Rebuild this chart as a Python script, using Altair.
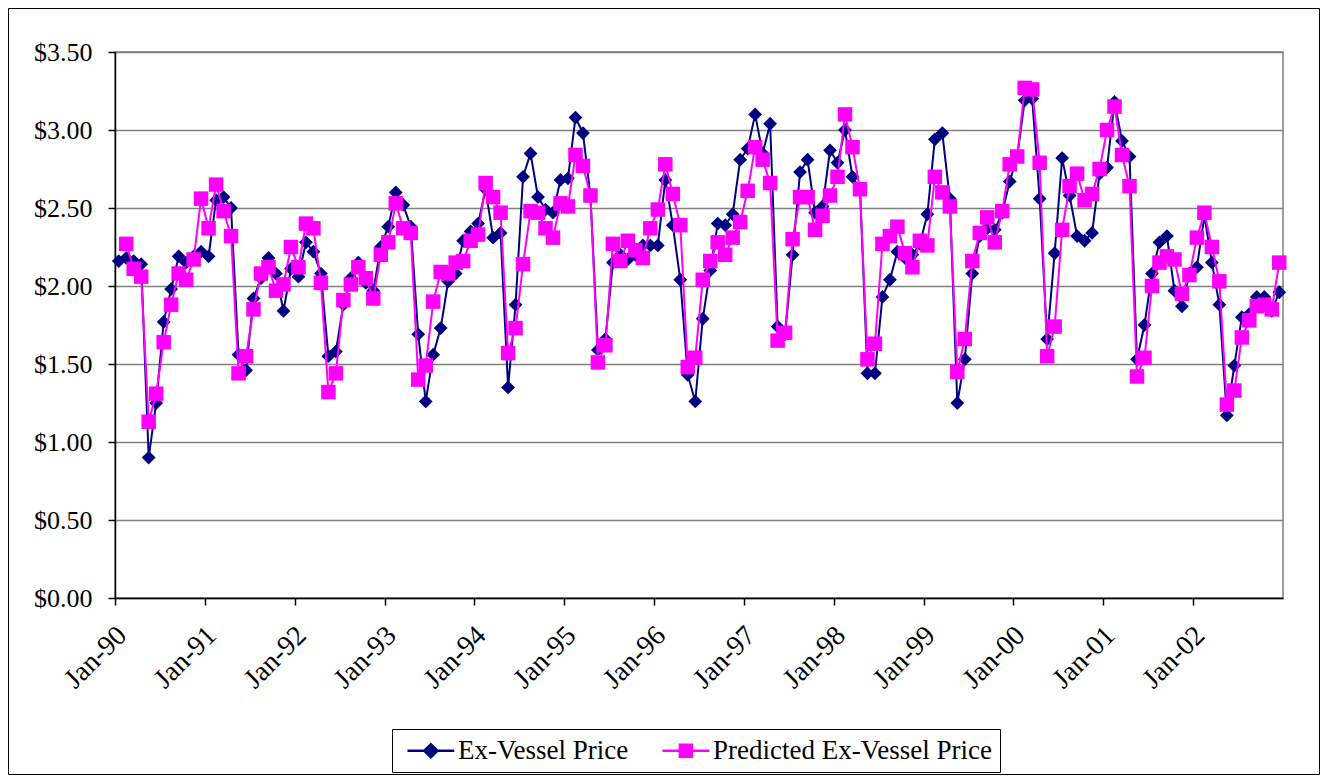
import altair as alt
import pandas as pd

tick_labels = ["Jan-90", "Jan-91", "Jan-92", "Jan-93", "Jan-94", "Jan-95", "Jan-96",
               "Jan-97", "Jan-98", "Jan-99", "Jan-00", "Jan-01", "Jan-02"]

series_names = ["Ex-Vessel Price", "Predicted Ex-Vessel Price"]

# monthly values, Jan-90 .. Dec-02
actual_price = [
    2.16, 2.18, 2.16, 2.14, 0.90, 1.25, 1.77, 1.98, 2.19, 2.15, 2.19, 2.22,
    2.19, 2.55, 2.57, 2.50, 1.56, 1.46, 1.92, 2.05, 2.18, 2.08, 1.84, 2.11,
    2.06, 2.28, 2.22, 2.08, 1.55, 1.58, 1.88, 2.05, 2.15, 2.02, 1.97, 2.25,
    2.38, 2.60, 2.52, 2.38, 1.69, 1.26, 1.56, 1.73, 2.03, 2.08, 2.29, 2.35,
    2.40, 2.62, 2.31, 2.34, 1.35, 1.88, 2.70, 2.85, 2.57, 2.49, 2.47, 2.68,
    2.69, 3.08, 2.98, 2.58, 1.59, 1.66, 2.15, 2.20, 2.17, 2.20, 2.26, 2.26,
    2.26, 2.68, 2.39, 2.04, 1.43, 1.26, 1.79, 2.10, 2.40, 2.39, 2.46, 2.81,
    2.88, 3.10, 2.85, 3.04, 1.74, 1.69, 2.20, 2.73, 2.81, 2.47, 2.51, 2.87,
    2.79, 3.00, 2.70, 2.62, 1.44, 1.44, 1.93, 2.04, 2.22, 2.18, 2.20, 2.27,
    2.46, 2.94, 2.98, 2.56, 1.25, 1.53, 2.08, 2.32, 2.37, 2.36, 2.47, 2.67,
    2.83, 3.19, 3.20, 2.56, 1.66, 2.21, 2.82, 2.58, 2.32, 2.29, 2.34, 2.72,
    2.76, 3.18, 2.93, 2.83, 1.53, 1.75, 2.08, 2.28, 2.32, 1.97, 1.87, 2.08,
    2.12, 2.45, 2.15, 1.88, 1.17, 1.49, 1.80, 1.82, 1.93, 1.93, 1.84, 1.96,
]

predicted_price = [
    None, 2.27, 2.11, 2.06, 1.13, 1.31, 1.64, 1.88, 2.08, 2.04, 2.17, 2.56,
    2.37, 2.65, 2.48, 2.32, 1.44, 1.55, 1.85, 2.08, 2.12, 1.97, 2.01, 2.25,
    2.12, 2.40, 2.37, 2.02, 1.32, 1.44, 1.91, 2.01, 2.12, 2.05, 1.92, 2.20,
    2.28, 2.53, 2.37, 2.34, 1.40, 1.49, 1.90, 2.09, 2.08, 2.15, 2.16, 2.29,
    2.33, 2.66, 2.57, 2.47, 1.57, 1.73, 2.14, 2.48, 2.47, 2.37, 2.31, 2.53,
    2.51, 2.84, 2.77, 2.58, 1.51, 1.62, 2.27, 2.16, 2.29, 2.23, 2.18, 2.37,
    2.49, 2.78, 2.59, 2.39, 1.48, 1.54, 2.04, 2.16, 2.28, 2.20, 2.31, 2.41,
    2.61, 2.89, 2.81, 2.66, 1.65, 1.70, 2.30, 2.57, 2.57, 2.36, 2.45, 2.58,
    2.70, 3.10, 2.89, 2.62, 1.53, 1.63, 2.27, 2.32, 2.38, 2.21, 2.12, 2.29,
    2.26, 2.70, 2.60, 2.51, 1.45, 1.66, 2.16, 2.34, 2.44, 2.28, 2.48, 2.78,
    2.83, 3.27, 3.26, 2.79, 1.55, 1.74, 2.36, 2.64, 2.72, 2.55, 2.59, 2.75,
    3.00, 3.15, 2.84, 2.64, 1.42, 1.54, 2.00, 2.15, 2.19, 2.17, 1.95, 2.07,
    2.31, 2.47, 2.25, 2.03, 1.24, 1.33, 1.67, 1.78, 1.87, 1.88, 1.85, 2.15,
]

NAVY = "#000080"
MAGENTA = "#FF00FF"
FONT = "Liberation Serif"

rows = []
for i, v in enumerate(actual_price):
    rows.append({"month": i + 0.5, "price": v, "series": series_names[0]})
for i, v in enumerate(predicted_price):
    if v is not None:
        rows.append({"month": i + 0.5, "price": v, "series": series_names[1]})
df = pd.DataFrame(rows)

label_expr = "[" + ",".join("'" + s + "'" for s in tick_labels) + "][round(datum.value / 12)]"

x_enc = alt.X(
    "month:Q",
    scale=alt.Scale(domain=[0, 156], nice=False, zero=False),
    axis=alt.Axis(
        values=[12 * k for k in range(len(tick_labels))],
        labelExpr=label_expr,
        labelAngle=-45,
        labelAlign="right",
        labelBaseline="top",
        labelFont=FONT,
        labelFontSize=28,
        labelColor="black",
        labelPadding=16,
        labelOffset=-3,
        tickSize=7,
        tickColor="black",
        tickWidth=1.5,
        domainColor="black",
        domainWidth=1.5,
        grid=False,
        labelOverlap=False,
    ),
    title=None,
)
y_enc = alt.Y(
    "price:Q",
    scale=alt.Scale(domain=[0, 3.5], nice=False),
    axis=alt.Axis(
        values=[0, 0.5, 1.0, 1.5, 2.0, 2.5, 3.0, 3.5],
        format="$.2f",
        labelFont=FONT,
        labelFontSize=26,
        labelColor="black",
        labelPadding=16,
        tickSize=7,
        tickColor="black",
        tickWidth=1.5,
        domainColor="black",
        domainWidth=1.5,
        grid=True,
        gridColor="#808080",
        gridWidth=1.5,
    ),
    title=None,
)

base = alt.Chart(df)

line_a = base.transform_filter(alt.datum.series == series_names[0]).mark_line(
    color=NAVY, strokeWidth=2
).encode(x=x_enc, y=y_enc)
pts_a = base.transform_filter(alt.datum.series == series_names[0]).mark_point(
    shape="diamond", filled=True, size=190, color=NAVY, opacity=1
).encode(x=x_enc, y=y_enc)
line_p = base.transform_filter(alt.datum.series == series_names[1]).mark_line(
    color=MAGENTA, strokeWidth=2
).encode(x=x_enc, y=y_enc)
pts_p = base.transform_filter(alt.datum.series == series_names[1]).mark_point(
    shape="square", filled=True, size=210, color=MAGENTA, opacity=1
).encode(x=x_enc, y=y_enc)

# legend symbols: a line with a marker on it
legend_shapes = [
    "M-1,0H6.8M1.8,0L2.9,-1.1L4,0L2.9,1.1Z",
    "M-1,0H6.8M1.9,-1H3.9V1H1.9Z",
]
leg = alt.Legend(
    title=None,
    orient="none",
    legendX=277,
    legendY=677,
    direction="horizontal",
    columns=2,
    labelFont=FONT,
    labelFontSize=27,
    labelColor="black",
    labelLimit=0,
    labelOffset=31,
    symbolSize=144,
    symbolOpacity=1,
    symbolStrokeWidth=2.5,
    columnPadding=26,
    padding=8,
    strokeColor="black",
    fillColor="white",
)
color_scale = alt.Scale(domain=series_names, range=[NAVY, MAGENTA])
legend_layer = base.mark_point(filled=True, opacity=0, size=144, strokeWidth=2.5).encode(
    x=x_enc,
    y=y_enc,
    fill=alt.Fill("series:N", scale=color_scale, legend=leg),
    stroke=alt.Stroke("series:N", scale=color_scale, legend=leg),
    shape=alt.Shape("series:N", scale=alt.Scale(domain=series_names, range=legend_shapes), legend=leg),
)

frame = alt.Chart(pd.DataFrame({"frame": [0]})).mark_rect(
    fill="white", fillOpacity=0, stroke="black", strokeWidth=1
).encode(
    x=alt.value(-106.5), x2=alt.value(1204.5), y=alt.value(-43.5), y2=alt.value(722.5)
)

chart = alt.layer(frame, line_a, pts_a, line_p, pts_p, legend_layer).properties(
    width=1168,
    height=546,
    background="white",
    autosize=alt.AutoSizeParams(type="none"),
    padding={"left": 107, "top": 44, "right": 37, "bottom": 177},
).configure_view(stroke="#808080", strokeWidth=1.5)

chart.save("out.html", embed_options={"renderer": "svg", "actions": False})
